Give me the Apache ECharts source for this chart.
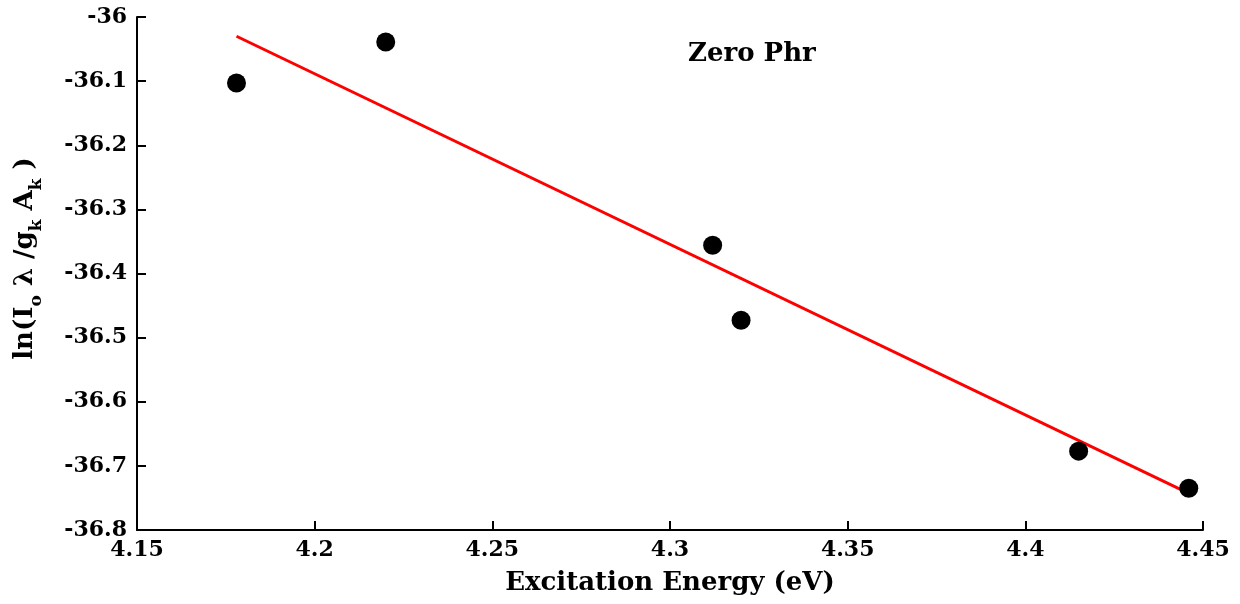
<!DOCTYPE html>
<html>
<head>
<meta charset="utf-8">
<script src="https://cdn.jsdelivr.net/npm/echarts@6/dist/echarts.min.js"></script>
<style>
  html, body { margin: 0; padding: 0; background: #fff; }
  #chart { width: 1240px; height: 604px; }
</style>
</head>
<body>
<div id="chart"></div>
<script>
// Measured points: excitation energy (eV) vs ln(I·λ / g·A)
const energy = [4.178, 4.220, 4.312, 4.320, 4.415, 4.446];
const lnIntensity = [-36.103, -36.039, -36.356, -36.473, -36.677, -36.735];

// Linear fit drawn between its two end points
const fitEnergy = [4.178, 4.446];
const fitLn = [-36.030, -36.743];

const xTicks = { min: 4.15, max: 4.45, interval: 0.05 };
const yTicks = { min: -36.8, max: -36, interval: 0.1 };

const FONT = 'DejaVu Serif';

const chart = echarts.init(document.getElementById('chart'));

chart.setOption({
  animation: false,
  backgroundColor: '#fff',
  grid: { left: 137, right: 37, top: 17, bottom: 74 },
  title: {
    text: 'Zero Phr',
    left: 683, top: 36,
    textStyle: { fontFamily: FONT, fontWeight: 'bold', fontSize: 26, color: '#000' }
  },
  xAxis: {
    type: 'value',
    min: xTicks.min, max: xTicks.max, interval: xTicks.interval,
    name: 'Excitation Energy (eV)',
    nameLocation: 'middle',
    nameGap: 40,
    nameTextStyle: { fontFamily: FONT, fontWeight: 'bold', fontSize: 26, color: '#000', verticalAlign: 'top' },
    axisLine: { lineStyle: { color: '#000', width: 2 } },
    axisTick: { inside: true, length: 9, lineStyle: { color: '#000', width: 2 } },
    axisLabel: { fontFamily: FONT, fontWeight: 'bold', fontSize: 22, color: '#000', margin: 9 },
    splitLine: { show: false }
  },
  yAxis: {
    type: 'value',
    min: yTicks.min, max: yTicks.max, interval: yTicks.interval,
    name: '{m|ln(I}{s|o}{m| λ /g}{s|k}{m| A}{s|k}{m| )}',
    nameLocation: 'middle',
    nameGap: 92,
    nameRotate: 90,
    nameTextStyle: {
      fontFamily: FONT, fontWeight: 'bold', fontSize: 26, color: '#000',
      padding: [0, 0, 0, 30],
      rich: {
        m: { fontFamily: FONT, fontWeight: 'bold', fontSize: 26, color: '#000', lineHeight: 40, verticalAlign: 'middle' },
        s: { fontFamily: FONT, fontWeight: 'bold', fontSize: 17, color: '#000', lineHeight: 40, verticalAlign: 'bottom' }
      }
    },
    axisLine: { show: true, lineStyle: { color: '#000', width: 2 } },
    axisTick: { show: true, inside: true, length: 9, lineStyle: { color: '#000', width: 2 } },
    axisLabel: { fontFamily: FONT, fontWeight: 'bold', fontSize: 22, color: '#000', margin: 10 },
    splitLine: { show: false }
  },
  series: [
    {
      type: 'line',
      data: fitEnergy.map((x, i) => [x, fitLn[i]]),
      symbol: 'none',
      lineStyle: { color: '#ff0000', width: 3 },
      z: 2
    },
    {
      type: 'scatter',
      data: energy.map((x, i) => [x, lnIntensity[i]]),
      symbol: 'circle',
      symbolSize: 19,
      itemStyle: { color: '#000', opacity: 1 },
      z: 3
    }
  ]
});
</script>
</body>
</html>
